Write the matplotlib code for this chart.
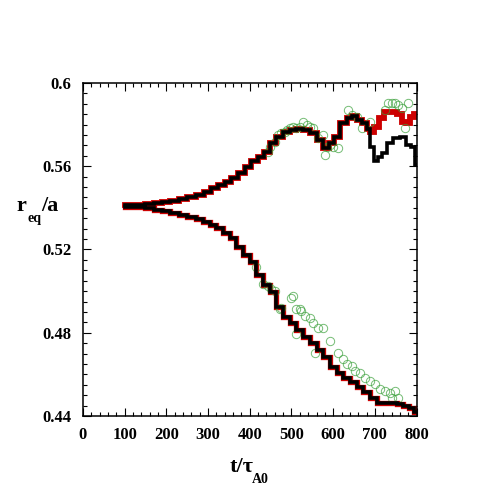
import matplotlib.pyplot as plt
from matplotlib.ticker import MultipleLocator

# upper branch, shared part (red and black overlap)
t_up = [100, 120, 140, 160, 180, 200, 220, 240, 260, 280, 300, 316, 332, 348,
        364, 380, 396, 412, 428, 440, 456, 472, 488, 504, 520, 536, 552, 568,
        584, 596, 608, 624, 640, 652, 664, 676, 684]
r_up = [0.5412, 0.5413, 0.5415, 0.5418, 0.5422, 0.5428, 0.5434, 0.5442, 0.5452,
        0.5464, 0.5478, 0.5493, 0.5508, 0.5525, 0.5545, 0.5566, 0.5595, 0.5625,
        0.5645, 0.5669, 0.5709, 0.5741, 0.5765, 0.5776, 0.5780, 0.5773, 0.5757,
        0.5725, 0.5685, 0.5709, 0.5741, 0.5805, 0.5829, 0.5840, 0.5821, 0.5805,
        0.5780]

# tails after divergence
t_tail_blk = [692, 702, 712, 724, 736, 752, 768, 780, 792, 800]
r_tail_blk = [0.5693, 0.5625, 0.5645, 0.5661, 0.5709, 0.5733, 0.5741, 0.5701,
              0.5693, 0.5605]
t_tail_red = [692, 702, 716, 728, 744, 760, 770, 780, 788, 800]
r_tail_red = [0.5765, 0.5789, 0.5829, 0.5861, 0.5861, 0.5850, 0.5813, 0.5805,
              0.5837, 0.5850]

# lower branch
t_lo = [100, 120, 140, 160, 180, 200, 220, 240, 260, 280, 296, 312, 328, 344,
        360, 376, 392, 408, 424, 440, 456, 472, 488, 504, 520, 536, 552, 568,
        584, 600, 616, 632, 648, 664, 680, 696, 712, 728, 744, 760, 776, 788, 800]
r_lo = [0.5405, 0.5404, 0.5402, 0.5398, 0.5392, 0.5384, 0.5376, 0.5368, 0.5358,
        0.5346, 0.5334, 0.5317, 0.5301, 0.5277, 0.5253, 0.5213, 0.5173, 0.5141,
        0.5077, 0.5029, 0.4995, 0.4925, 0.4877, 0.4845, 0.4813, 0.4781, 0.4749,
        0.4717, 0.4685, 0.4637, 0.4605, 0.4581, 0.4565, 0.4541, 0.4517, 0.4485,
        0.4464, 0.4461, 0.4461, 0.4458, 0.4448, 0.4437, 0.4421]

# green circles
t_g_up = [444, 448, 460, 468, 476, 484, 490, 496, 504, 512, 520, 528, 536, 544,
          552, 564, 576, 584, 580, 592, 600, 612, 636, 644, 656, 668, 688, 724,
          732, 740, 748, 756, 764, 780, 772]
r_g_up = [0.5669, 0.5693, 0.5717, 0.5749, 0.5757, 0.5765, 0.5773, 0.5781, 0.5789,
          0.5785, 0.5789, 0.5813, 0.5797, 0.5789, 0.5781, 0.5733, 0.5749, 0.5693,
          0.5653, 0.5701, 0.5693, 0.5685, 0.5869, 0.5845, 0.5837, 0.5781, 0.5813,
          0.5869, 0.5901, 0.5901, 0.5901, 0.5893, 0.5877, 0.5901, 0.5781]
t_g_lo = [416, 432, 444, 452, 460, 500, 504, 472, 476, 512, 520, 524, 532, 544,
          552, 564, 576, 512, 592, 556, 612, 624, 632, 644, 652, 664, 676, 688,
          700, 712, 724, 736, 748, 756, 740]
r_g_lo = [0.5117, 0.5032, 0.5024, 0.5010, 0.5000, 0.4968, 0.4976, 0.4912, 0.4920,
          0.4912, 0.4912, 0.4904, 0.4880, 0.4872, 0.4848, 0.4824, 0.4824, 0.4792,
          0.4760, 0.4704, 0.4704, 0.4672, 0.4648, 0.4640, 0.4616, 0.4608, 0.4584,
          0.4568, 0.4552, 0.4528, 0.4520, 0.4512, 0.4520, 0.4488, 0.4488]

plt.rcParams['font.family'] = ['Liberation Serif', 'DejaVu Serif']
plt.rcParams['font.weight'] = 'bold'

fig = plt.figure(figsize=(4.99, 4.99), dpi=100)
ax = fig.add_axes([0.166, 0.166, 0.669, 0.668])

red_t = t_up + t_tail_red
red_r = r_up + r_tail_red
blk_t = t_up + t_tail_blk
blk_r = r_up + r_tail_blk

ax.plot(red_t, red_r, color='#cc0000', lw=4.2, drawstyle='steps-mid',
        solid_joinstyle='miter', zorder=2)
ax.plot(t_lo, r_lo, color='#cc0000', lw=3.8, drawstyle='steps-mid',
        solid_joinstyle='miter', zorder=2)
ax.plot(t_g_up, r_g_up, 'o', ms=6, mfc='none', mec='#3aa03a', mew=0.7,
        alpha=0.7, zorder=3)
ax.plot(t_g_lo, r_g_lo, 'o', ms=6, mfc='none', mec='#3aa03a', mew=0.7,
        alpha=0.7, zorder=3)
ax.plot(blk_t, blk_r, color='black', lw=2.6, drawstyle='steps-mid',
        solid_joinstyle='miter', zorder=4)
ax.plot(t_lo, r_lo, color='black', lw=2.6, drawstyle='steps-mid',
        solid_joinstyle='miter', zorder=4)

ax.set_xlim(0, 800)
ax.set_ylim(0.44, 0.6)
ax.xaxis.set_major_locator(MultipleLocator(100))
ax.xaxis.set_minor_locator(MultipleLocator(20))
ax.yaxis.set_minor_locator(MultipleLocator(0.005))
ax.set_yticks([0.44, 0.48, 0.52, 0.56, 0.6])
ax.set_yticklabels(['0.44', '0.48', '0.52', '0.56', '0.6'])
ax.tick_params(which='both', direction='in', top=True, right=True,
               labelsize=12, width=0.8)
ax.tick_params(which='major', length=6, pad=8)
ax.tick_params(which='minor', length=3)
for s in ax.spines.values():
    s.set_linewidth(1.1)

# axis labels drawn as pieces so the subscripts sit low like the original
fig.text(0.461, 0.055, 't/τ', fontsize=16, fontweight='bold', ha='left')
fig.text(0.505, 0.032, 'A0', fontsize=10, fontweight='bold', ha='left')
fig.text(0.032, 0.578, 'r', fontsize=16, fontweight='bold', ha='left')
fig.text(0.055, 0.556, 'eq', fontsize=10, fontweight='bold', ha='left')
fig.text(0.082, 0.578, '/a', fontsize=16, fontweight='bold', ha='left')

fig.savefig('out.png', dpi=100)
